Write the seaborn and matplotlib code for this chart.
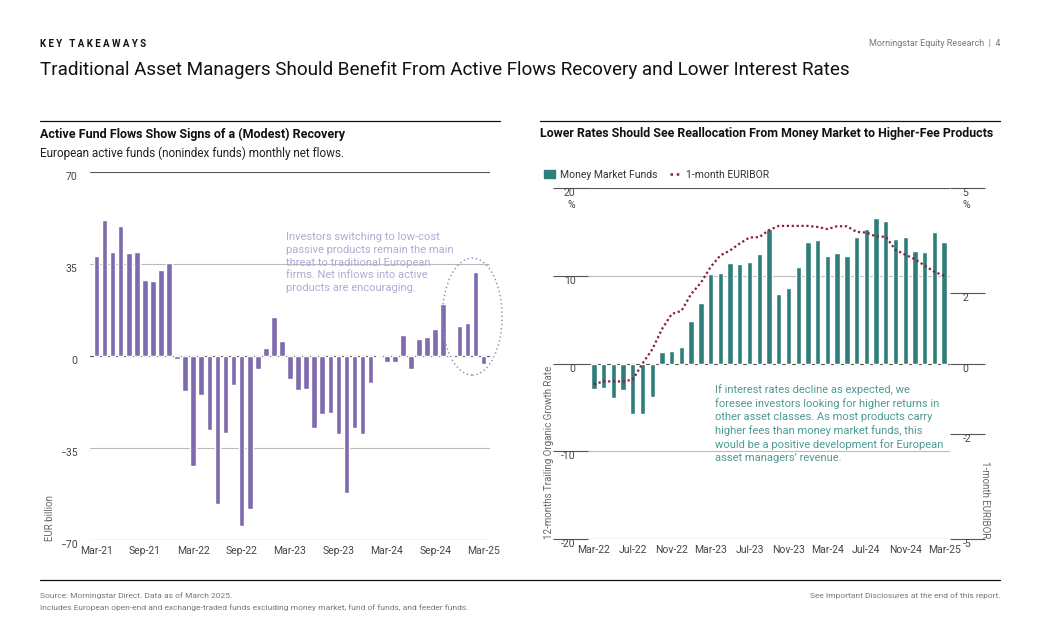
import matplotlib
matplotlib.use("Agg")
import matplotlib.pyplot as plt
import seaborn as sns
import pandas as pd
import numpy as np
from matplotlib.patches import Ellipse, Patch
from matplotlib.lines import Line2D

sns.set_theme(style="white")
plt.rcParams['font.family'] = ['Roboto', 'DejaVu Sans']

left_months = pd.period_range("2021-03", "2025-03", freq="M").strftime("%b-%y").tolist()
left_flows = [38.2, 51.9, 39.7, 49.3, 39.3, 39.7, 29.0, 28.6, 32.8, 35.5,
              -1.0, -13.2, -41.9, -14.8, -28.1, -56.3, -29.3, -10.9, -64.8, -58.3, -5.0, 3.1,
              14.9, 5.7, -8.8, -12.9, -12.5, -27.4, -22.0, -21.6, -29.7, -52.2, -27.4, -29.7,
              -10.2, 0.2, -2.2, -2.2, 8.0, -4.8, 6.5, 7.3, 10.3, 19.9, -0.5, 11.5,
              12.6, 32.1, -2.9]
left_ticks = [-70, -35, 0, 35, 70]

right_months = pd.period_range("2022-03", "2025-03", freq="M").strftime("%b-%y").tolist()
mmf_growth = [-2.9, -2.8, -3.9, -3.0, -5.7, -5.7, -3.8, 1.3, 1.4, 1.9,
              4.9, 6.9, 10.2, 10.3, 11.4, 11.3, 11.6, 12.5, 15.3, 7.9, 8.6, 11.0,
              13.9, 14.1, 12.2, 12.6, 12.2, 14.4, 15.3, 16.6, 16.2, 14.2, 14.4, 12.8,
              12.7, 15.0, 13.9]
euribor = [-0.59, -0.51, -0.51, -0.51, -0.46, 0.0, 0.4, 0.98, 1.41, 1.5,
           1.98, 2.3, 2.75, 3.08, 3.22, 3.42, 3.59, 3.6, 3.8, 3.92, 3.92, 3.92,
           3.92, 3.89, 3.83, 3.91, 3.91, 3.75, 3.73, 3.62, 3.61, 3.24, 3.1, 2.97,
           2.79, 2.61, 2.5]
right_ticks_l = [-20, -10, 0, 10, 20]
right_ticks_r = [-5, -2, 0, 2, 5]

PURPLE = "#7F6AAE"
TEAL = "#2F7E7A"
RED = "#8C1C40"
GRID = "#BBBBBB"

W, H = 1040, 640
fig = plt.figure(figsize=(10.4, 6.4), dpi=100)

def ax_rect(x0, y0, x1, y1):
    return [x0 / W, 1 - y1 / H, (x1 - x0) / W, (y1 - y0) / H]

def ft(x, y, s, **kw):
    fig.text(x / W, 1 - y / H, s, **kw)

# header
ft(40, 44, "K E Y   T A K E A W A Y S", fontsize=7, fontweight="bold", color="#111111", va="center")
ft(40, 70, "Traditional Asset Managers Should Benefit From Active Flows Recovery and Lower Interest Rates",
   fontsize=13.6, color="#111111", va="center")
ft(1000, 44, "Morningstar Equity Research  |  4", fontsize=6.5, color="#777777", va="center", ha="right")

for (xa, xb) in [(40, 500), (540, 1000)]:
    fig.add_artist(Line2D([xa / W, xb / W], [1 - 121 / H] * 2, color="#111111", lw=0.9))
fig.add_artist(Line2D([40 / W, 1000 / W], [1 - 580 / H] * 2, color="#111111", lw=0.9))

ft(40, 134, "Active Fund Flows Show Signs of a (Modest) Recovery", fontsize=9, fontweight="bold", color="#111111", va="center")
ft(40, 153, "European active funds (nonindex funds) monthly net flows.", fontsize=8.5, color="#222222", va="center")
ft(540, 134, "Lower Rates Should See Reallocation From Money Market to Higher-Fee Products", fontsize=8.9, fontweight="bold", color="#111111", va="center")

ft(40, 596, "Source: Morningstar Direct. Data as of March 2025.", fontsize=6, color="#777777", va="center")
ft(40, 608, "Includes European open-end and exchange-traded funds excluding money market, fund of funds, and feeder funds.", fontsize=6, color="#777777", va="center")
ft(1000, 596, "See Important Disclosures at the end of this report.", fontsize=6, color="#777777", va="center", ha="right")

# ---- left chart
axL = fig.add_axes(ax_rect(90, 172, 490, 540))
dfL = pd.DataFrame({"month": left_months, "flow": left_flows})
sns.barplot(data=dfL, x="month", y="flow", color=PURPLE, saturation=1, width=0.7, ax=axL)
axL.set_ylim(-70, 70)
axL.set_xlim(-0.8, len(left_months) - 0.2)
axL.set_yticks(left_ticks)
axL.set_yticklabels(["\u221270", "\u221235", "0", "35", "70"])
for t in left_ticks:
    axL.axhline(t, color=GRID if t not in (70, -70) else "#555555", lw=0.8, zorder=0)
axL.axhline(0, color="#555555", lw=0.8, zorder=0.5)
axL.tick_params(axis="y", length=25, width=0.8, color="#555555", pad=-16, labelsize=7.5, labelcolor="#444444")
for lab in axL.get_yticklabels():
    lab.set_va("top")
axL.set_xticks(range(0, len(left_months), 6))
axL.set_xticklabels([left_months[i] for i in range(0, len(left_months), 6)])
axL.tick_params(axis="x", length=0, labelsize=7.5, labelcolor="#444444", pad=4)
axL.set_xlabel("")
axL.set_ylabel("")
for s in axL.spines.values():
    s.set_visible(False)
ft(50, 518, "EUR billion", fontsize=7, color="#666666", rotation=90, va="center", ha="center")
ft(286, 232, "Investors switching to low-cost\npassive products remain the main\nthreat to traditional European\nfirms. Net inflows into active\nproducts are encouraging.",
   fontsize=8, color="#B5A8D4", va="top", linespacing=1.35)
axL.add_patch(Ellipse((46.6, 15.0), 7.4, 44.5, fill=False, ls=(0, (1, 2)), lw=1, color="#8A8AB0", clip_on=False))

# ---- right chart
axR = fig.add_axes(ax_rect(588, 188, 950, 539))
dfR = pd.DataFrame({"month": right_months, "mmf": mmf_growth})
sns.barplot(data=dfR, x="month", y="mmf", color=TEAL, saturation=1, width=0.55, ax=axR)
axR.set_ylim(-20, 20)
axR.set_xlim(-0.6, len(right_months) - 0.4)
axR.set_yticks(right_ticks_l)
axR.set_yticklabels(["-20", "-10", "0", "10", "20\n%"])
for t in right_ticks_l:
    axR.axhline(t, color=GRID if t not in (20, -20, 0) else "#555555", lw=0.8, zorder=0)
axR.tick_params(axis="y", length=25, width=0.8, color="#555555", pad=-16, labelsize=7.5, labelcolor="#444444")
for lab in axR.get_yticklabels():
    lab.set_va("top")
axR.set_xticks(range(0, len(right_months), 4))
axR.set_xticklabels([right_months[i] for i in range(0, len(right_months), 4)])
axR.tick_params(axis="x", length=0, labelsize=7.5, labelcolor="#444444", pad=4)
axR.set_xlabel("")
axR.set_ylabel("")
for s in axR.spines.values():
    s.set_visible(False)

axR2 = axR.twinx()
sns.lineplot(x=np.arange(len(right_months)), y=euribor, ax=axR2, color=RED, lw=1.6,
             linestyle=(0, (1, 1.2)), legend=False)
axR2.set_ylim(-5, 5)
axR2.set_yticks(right_ticks_r)
axR2.set_yticklabels(["-5", "-2", "0", "2", "5\n%"])
axR2.tick_params(axis="y", length=25, width=0.8, color="#555555", pad=-16, labelsize=7.5, labelcolor="#444444")
for lab in axR2.get_yticklabels():
    lab.set_va("top")
for s in axR2.spines.values():
    s.set_visible(False)
axR2.set_ylabel("")

ft(549, 452, "12-months Trailing Organic Growth Rate", fontsize=7, color="#666666", rotation=90, va="center", ha="center")
ft(985, 500, "1-month EURIBOR", fontsize=7, color="#666666", rotation=270, va="center", ha="center")
ft(715, 384, "If interest rates decline as expected, we\nforesee investors looking for higher returns in\nother asset classes. As most products carry\nhigher fees than money market funds, this\nwould be a positive development for European\nasset managers\u2019 revenue.",
   fontsize=8, color="#4E9A93", va="top", linespacing=1.35)

handles = [Patch(color=TEAL, label="Money Market Funds"),
           Line2D([0], [0], color=RED, lw=1.8, linestyle=(0, (1, 1.5)), label="1-month EURIBOR")]
fig.legend(handles=handles, loc="center left", bbox_to_anchor=(535 / W, 1 - 175 / H), ncol=2, frameon=False,
           fontsize=7.5, handlelength=1.0, handleheight=0.8, columnspacing=1.2, handletextpad=0.5,
           labelcolor="#333333")

fig.savefig("out.png", dpi=100)
